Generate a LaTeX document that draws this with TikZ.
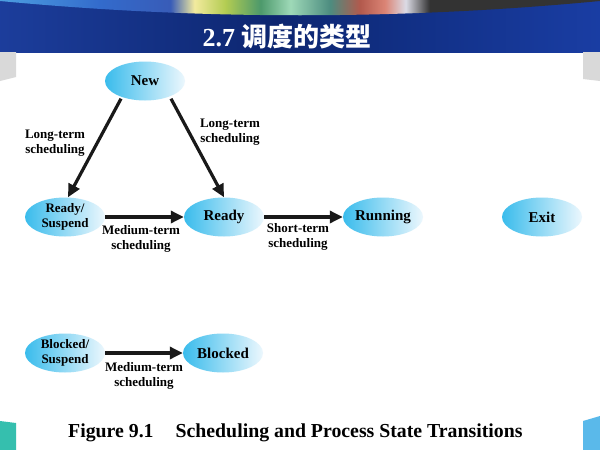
\documentclass[tikz,border=0pt]{standalone}
\usepackage{fontspec}
\setmainfont{Liberation Serif}
\newfontfamily\cjkfont{Noto Sans CJK SC}
\usetikzlibrary{arrows.meta,calc,shapes.geometric}
\definecolor{sidegray}{RGB}{217,217,217}
\definecolor{tealc}{RGB}{53,191,174}
\definecolor{rblue}{RGB}{90,185,234}
\definecolor{ellL}{RGB}{58,188,236}
\definecolor{ellR}{RGB}{236,247,253}
\pgfdeclarehorizontalshading{bandshade}{100bp}{rgb(0bp)=(0.11,0.24,0.61); rgb(25bp)=(0.11,0.24,0.61); rgb(48bp)=(0.05,0.15,0.44); rgb(60bp)=(0.07,0.19,0.53); rgb(75bp)=(0.10,0.24,0.64); rgb(100bp)=(0.10,0.24,0.64)}
\pgfdeclarehorizontalshading{topstrip}{100bp}{rgb(0bp)=(0.30,0.62,0.88); rgb(25bp)=(0.30,0.62,0.88); rgb(33.3bp)=(0.20,0.42,0.80); rgb(39.2bp)=(0.22,0.36,0.72); rgb(41.2bp)=(0.95,0.92,0.62); rgb(43.8bp)=(0.70,0.80,0.32); rgb(46.7bp)=(0.30,0.60,0.42); rgb(49.2bp)=(0.62,0.85,0.72); rgb(52.5bp)=(0.30,0.55,0.50); rgb(55bp)=(0.70,0.35,0.30); rgb(57.1bp)=(0.86,0.52,0.46); rgb(58.8bp)=(0.86,0.86,0.90); rgb(60.8bp)=(0.20,0.20,0.20); rgb(75bp)=(0.20,0.20,0.20); rgb(100bp)=(0.20,0.20,0.20)}
\tikzset{
  state/.style={ellipse, minimum width=80pt, minimum height=39pt, inner sep=0pt,
    left color=ellL, right color=ellR, align=center},
  bigtxt/.style={font=\fontsize{15}{17}\selectfont\bfseries},
  smalltxt/.style={font=\fontsize{13}{15.5}\selectfont\bfseries},
  lbl/.style={align=center, inner sep=0pt, font=\fontsize{13}{15}\selectfont\bfseries},
  arr/.style={line width=3.2pt, draw=black!90, -{Triangle[length=13pt,width=12pt]}}
}
\begin{document}
\begin{tikzpicture}[x=1pt,y=-1pt]
\useasboundingbox (0,0) rectangle (600,450);
\fill[white] (0,0) rectangle (600,450);
% header band
\shade[shading=bandshade] (0,0) rectangle (600,52);
\shade[shading=topstrip] (0,0) -- (0,1) .. controls (200,20) and (400,20) .. (600,1) -- (600,0) -- cycle;
% side panels
\fill[sidegray] (0,52) -- (16,52) -- (16,77) -- (0,81) -- cycle;
\fill[sidegray] (583,52) -- (600,52) -- (600,81) -- (583,79) -- cycle;
\fill[tealc] (0,421) -- (16,423) -- (16,450) -- (0,450) -- cycle;
\fill[rblue] (583,421) -- (600,416) -- (600,450) -- (583,450) -- cycle;
% title
\node[text=white, font=\bfseries, inner sep=0pt] (title) at (287,37)
  {\fontsize{26}{28}\selectfont 2.7 {\cjkfont\fontsize{26}{28}\selectfont 调度的类型}};
% states
\node[state, bigtxt] (new) at (145,81) {New};
\node[state, smalltxt] (rs) at (65,217) {Ready/\\Suspend};
\node[state, bigtxt] (ready) at (224,217) {Ready};
\node[state, bigtxt] (running) at (383,217) {Running};
\node[state, bigtxt] (exit) at (542,217) {Exit};
\node[state, smalltxt] (bs) at (65,353) {Blocked/\\Suspend};
\node[state, bigtxt] (blocked) at (223,353) {Blocked};
% arrows
\draw[arr] ($(new.south)+(-24,-2)$) -- ($(rs.north)+(3,0)$);
\draw[arr] ($(new.south)+(26,-2)$) -- (ready.north);
\draw[arr] (rs.east) -- (ready.west);
\draw[arr] (ready.east) -- (running.west);
\draw[arr] (bs.east) -- (blocked.west);
% labels
\node[lbl] (l1) at (55,143) {Long-term\\scheduling};
\node[lbl] (l2) at (230,132) {Long-term\\scheduling};
\node[lbl] (l3) at (141,239) {Medium-term\\scheduling};
\node[lbl] (l4) at (298,237) {Short-term\\scheduling};
\node[lbl] (l5) at (144,376) {Medium-term\\scheduling};
% caption
\node[anchor=base west, inner sep=0pt, font=\fontsize{19.8}{22}\selectfont\bfseries] (cap) at (68,437)
  {Figure 9.1\hspace{22pt}Scheduling and Process State Transitions};
\end{tikzpicture}
\end{document}
